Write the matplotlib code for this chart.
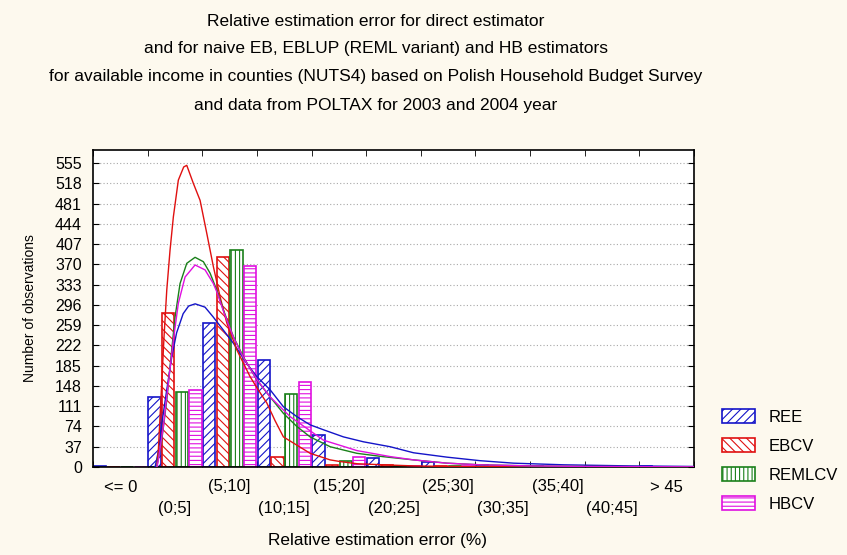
import numpy as np
import matplotlib
matplotlib.use("Agg")
import matplotlib.pyplot as plt

# category labels (bins of relative estimation error, %)
categories = ["<= 0", "(0;5]", "(5;10]", "(10;15]", "(15;20]", "(20;25]",
              "(25;30]", "(30;35]", "(35;40]", "(40;45]", "> 45"]

ree = [1, 127, 263, 196, 58, 16, 9, 3, 2, 1, 1]
ebcv = [0, 282, 383, 19, 3, 3, 2, 1, 0, 0, 0]
remlcv = [0, 137, 396, 134, 11, 2, 1, 1, 0, 0, 0]
hbcv = [0, 140, 367, 155, 18, 2, 1, 1, 0, 0, 0]

# fitted curves, (x in category units, count)
ree_fit_x = [0.636, 0.70, 0.76, 0.85, 0.94, 1.03, 1.15, 1.25, 1.37, 1.55, 1.70, 1.886,
             2.07, 2.315, 2.498, 2.742, 2.985, 3.231, 3.474, 3.718, 4.084, 4.451, 4.94,
             5.366, 5.978, 6.588, 7.198, 8.114, 9.335, 10.489]
ree_fit_y = [0, 30, 80, 141, 200, 245, 280, 294, 298, 292, 274, 250,
             226, 189, 165, 141, 110, 92, 77, 68, 55, 46, 37,
             26, 18, 11.5, 7, 4, 2, 1]

ebcv_fit_x = [0.667, 0.696, 0.758, 0.80, 0.85, 0.91, 0.971, 1.062, 1.16, 1.216, 1.337,
              1.46, 1.582, 1.703, 1.826, 1.949, 2.132, 2.375, 2.53, 2.681, 2.83, 2.985,
              3.23, 3.474, 3.84, 4.02, 4.33, 4.81, 5.37, 6.0, 7.0, 10.489]
ebcv_fit_y = [0, 31, 153, 238, 323, 396, 457, 524, 548, 551, 518,
              487, 427, 366, 311, 263, 214, 165, 140, 117, 85, 55,
              40, 25, 13, 10, 6, 4, 2, 1, 0.5, 0]

remlcv_fit_x = [0.667, 0.758, 0.85, 0.941, 1.002, 1.093, 1.216, 1.368, 1.52, 1.643,
                1.766, 1.886, 2.07, 2.253, 2.498, 2.742, 2.985, 3.231, 3.474, 3.841,
                4.33, 4.8, 5.366, 5.978, 6.588, 7.504, 8.5, 10.489]
remlcv_fit_y = [0, 49, 122, 214, 274, 335, 372, 383, 375, 354,
                323, 287, 238, 201, 159, 128, 98, 74, 55, 37,
                25, 19, 13, 7, 4, 2, 1, 0.3]

hbcv_fit_x = [0.67, 0.696, 0.788, 0.879, 0.971, 1.062, 1.185, 1.368, 1.551, 1.703,
              1.766, 1.886, 2.07, 2.253, 2.498, 2.742, 3.108, 3.718, 4.33, 4.94,
              5.366, 5.978, 6.588, 7.504, 8.5, 10.489]
hbcv_fit_y = [0, 13, 74, 153, 232, 299, 347, 369, 360, 335,
              320, 285, 237, 200, 160, 128, 92, 49, 30, 19,
              13, 7, 4, 2, 1, 0.3]

yticks = [0, 37, 74, 111, 148, 185, 222, 259, 296, 333, 370, 407, 444, 481, 518, 555]

title_lines = [
    "Relative estimation error for direct estimator",
    "and for naive EB, EBLUP (REML variant) and HB estimators",
    "for available income in counties (NUTS4) based on Polish Household Budget Survey",
    "and data from POLTAX for 2003 and 2004 year",
]

plt.rcParams["font.family"] = ["Liberation Sans", "DejaVu Sans"]
plt.rcParams["hatch.linewidth"] = 0.8

W, H = 847, 555
BG = "#fdf9ee"
fig = plt.figure(figsize=(W / 100, H / 100), dpi=100, facecolor=BG)
ax = fig.add_axes([93 / W, 1 - 467 / H, 601 / W, 317 / H])
ax.set_facecolor("white")

x = np.arange(len(categories))
series = [
    ("REE", ree, ree_fit_x, ree_fit_y, "#1414c8", "////"),
    ("EBCV", ebcv, ebcv_fit_x, ebcv_fit_y, "#e01010", "\\\\\\\\"),
    ("REMLCV", remlcv, remlcv_fit_x, remlcv_fit_y, "#1a801a", "||||"),
    ("HBCV", hbcv, hbcv_fit_x, hbcv_fit_y, "#e010e0", "----"),
]
bw = 0.25
handles = []
for k, (name, vals, fx, fy, col, hatch) in enumerate(series):
    bars = ax.bar(x - 0.5 + bw * (k + 0.5), vals, width=bw * 0.9, color="white",
                  edgecolor=col, hatch=hatch, linewidth=1.2, label=name, zorder=2)
    handles.append(bars)
for k, (name, vals, fx, fy, col, hatch) in enumerate(series):
    ax.plot(fx, fy, color=col, lw=1.0, zorder=3)

ax.set_xlim(-0.5, 10.5)
ax.set_ylim(0, 579)
ax.set_yticks(yticks)
ax.tick_params(axis="y", direction="in", length=4, right=True, labelsize=11.5, pad=8)
ax.set_xticks(x)
ax.set_xticklabels([c if i % 2 == 0 else "\n" + c for i, c in enumerate(categories)],
                   fontsize=12, linespacing=1.55)
ax.tick_params(axis="x", length=0, pad=9)
ax.set_xticks(np.arange(-0.5, 10.6, 1.0), minor=True)
ax.tick_params(axis="x", which="minor", direction="in", length=4, top=True)
ax.grid(axis="y", linestyle=(0, (1, 2)), color="#a8a8a8", lw=0.8, zorder=0)
for s in ax.spines.values():
    s.set_linewidth(1.2)

fig.text(30 / W, 1 - 308 / H, "Number of observations", rotation=90,
         ha="center", va="center", fontsize=10)
fig.text(377 / W, 1 - 541 / H, "Relative estimation error (%)",
         ha="center", va="center", fontsize=12.4)
for i, line in enumerate(title_lines):
    fig.text(376 / W, 1 - (21 + 28 * i) / H, line, ha="center", va="center",
             fontsize=12.5)

fig.legend(handles=handles, loc="upper left", bbox_to_anchor=(722 / W, 1 - 409 / H),
           frameon=False, fontsize=12, handlelength=2.0, handleheight=0.9,
           labelspacing=0.8, handletextpad=0.78, borderpad=0, borderaxespad=0)

fig.savefig("out.png", dpi=100, facecolor=BG)
